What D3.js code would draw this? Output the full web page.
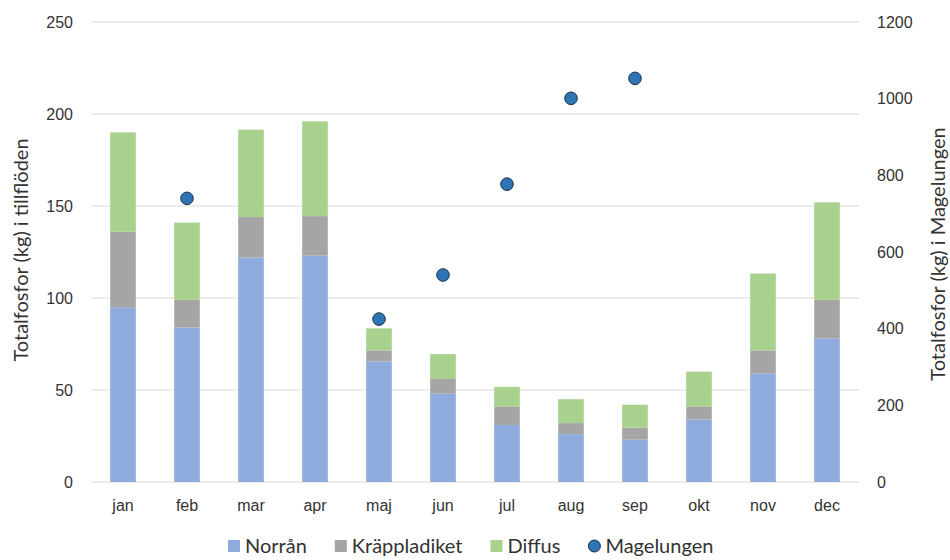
<!DOCTYPE html>
<html>
<head>
<meta charset="utf-8">
<script src="https://cdn.jsdelivr.net/npm/d3@7"></script>
<style>
  html, body { margin: 0; padding: 0; background: #fff; }
  svg { display: block; font-family: Lato, "Open Sans", sans-serif; }
</style>
</head>
<body>
<svg id="chart" width="950" height="560"></svg>
<script>
// Monthly total phosphorus (kg)
const months = ["jan", "feb", "mar", "apr", "maj", "jun", "jul", "aug", "sep", "okt", "nov", "dec"];
const norran = [95, 84, 122, 123, 65.5, 48, 31, 26, 23, 34, 59, 78];
const krappladiket = [41, 15, 22, 21.5, 6, 8, 10, 6, 6.5, 7, 12.5, 21];
const diffus = [54, 42, 47.5, 51.5, 12, 13.5, 10.7, 13, 12.5, 19, 41.8, 53];
const magelungen = [null, 740, null, null, 425, 540, 777, 1001, 1053, null, null, null];

const leftTicks = [0, 50, 100, 150, 200, 250];
const rightTicks = [0, 200, 400, 600, 800, 1000, 1200];

const seriesNames = ["Norrån", "Kräppladiket", "Diffus"];
const seriesColors = ["#8FAADC", "#A5A5A5", "#A9D18E"];
const dotName = "Magelungen";

const svg = d3.select("#chart");
const margin = { left: 91, right: 91, top: 22, bottom: 78 };
const W = 950, H = 560;

const x = d3.scaleBand().domain(months).range([margin.left, W - margin.right]).paddingInner(0.6).paddingOuter(0.3);
const yL = d3.scaleLinear().domain([0, 250]).range([482, 22]);
const yR = d3.scaleLinear().domain([0, 1200]).range([482, 22]);

const textColor = "#333333";

// gridlines
svg.append("g").selectAll("line").data(leftTicks).join("line")
  .attr("x1", margin.left).attr("x2", W - margin.right)
  .attr("y1", d => yL(d)).attr("y2", d => yL(d))
  .attr("stroke", "#D9D9D9").attr("stroke-width", 1.2);

// left axis
const leftAxis = svg.append("g").attr("transform", `translate(${margin.left - 6},0)`)
  .call(d3.axisLeft(yL).tickValues(leftTicks).tickSize(0).tickPadding(12));
leftAxis.select(".domain").remove();
leftAxis.selectAll("text").attr("fill", textColor).style("font-size", "16px");

// right axis
const rightAxis = svg.append("g").attr("transform", `translate(${W - margin.right + 6},0)`)
  .call(d3.axisRight(yR).tickValues(rightTicks).tickFormat(d3.format("d")).tickSize(0).tickPadding(12));
rightAxis.select(".domain").remove();
rightAxis.selectAll("text").attr("fill", textColor).style("font-size", "16px");

// x axis labels
const bottomAxis = svg.append("g").attr("transform", `translate(0,482)`)
  .call(d3.axisBottom(x).tickSize(0).tickPadding(18));
bottomAxis.select(".domain").remove();
bottomAxis.selectAll("text").attr("fill", textColor).style("font-size", "16px");

// stacked bars
const rows = months.map((m, i) => ({ month: m, Norrån: norran[i], "Kräppladiket": krappladiket[i], Diffus: diffus[i] }));
const stacked = d3.stack().keys(seriesNames)(rows);
svg.append("g").selectAll("g").data(stacked).join("g")
  .attr("fill", (d, i) => seriesColors[i])
  .selectAll("rect").data(d => d).join("rect")
  .attr("x", d => x(d.data.month))
  .attr("width", x.bandwidth())
  .attr("y", d => yL(d[1]))
  .attr("height", d => yL(d[0]) - yL(d[1]));

// Magelungen markers on the right axis
svg.append("g").selectAll("circle")
  .data(months.map((m, i) => ({ month: m, v: magelungen[i] })).filter(d => d.v != null))
  .join("circle")
  .attr("cx", d => x(d.month) + x.bandwidth() / 2)
  .attr("cy", d => yR(d.v))
  .attr("r", 6.3)
  .attr("fill", "#2E75B6")
  .attr("stroke", "#1B2E45")
  .attr("stroke-width", 1);

// axis titles
svg.append("text")
  .attr("transform", `translate(28,250) rotate(-90)`)
  .attr("text-anchor", "middle")
  .attr("fill", textColor).style("font-size", "20px")
  .text("Totalfosfor (kg) i tillflöden");
svg.append("text")
  .attr("transform", `translate(945,254) rotate(-90)`)
  .attr("text-anchor", "middle")
  .attr("fill", textColor).style("font-size", "20px")
  .text("Totalfosfor (kg) i Magelungen");

// legend
const legendItems = seriesNames.map((n, i) => ({ name: n, color: seriesColors[i], type: "rect" }))
  .concat([{ name: dotName, color: "#2E75B6", type: "circle" }]);
const legend = svg.append("g").attr("transform", "translate(228,546)");
let lx = 0;
legendItems.forEach(it => {
  const g = legend.append("g").attr("transform", `translate(${lx},0)`);
  if (it.type === "rect") {
    g.append("rect").attr("x", 0).attr("y", -6).attr("width", 12).attr("height", 12).attr("fill", it.color);
  } else {
    g.append("circle").attr("cx", 6).attr("cy", 0).attr("r", 6).attr("fill", it.color).attr("stroke", "#1B2E45").attr("stroke-width", 1);
  }
  const t = g.append("text").attr("x", 17).attr("y", 0).attr("dy", "0.35em")
    .attr("fill", textColor).style("font-size", "20px").text(it.name);
  lx += 17 + t.node().getComputedTextLength() + 28;
});
</script>
</body>
</html>
